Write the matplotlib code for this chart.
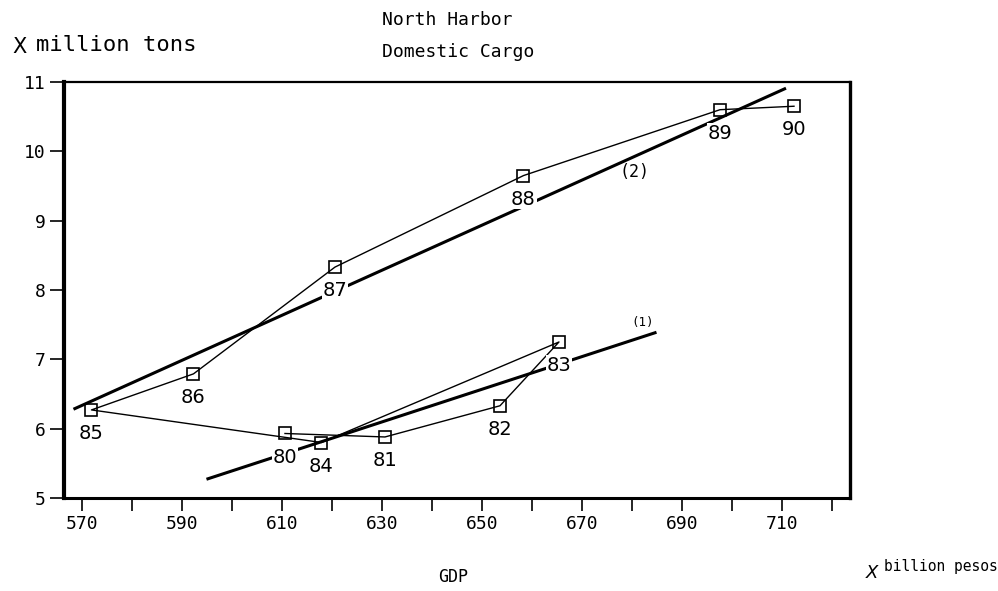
import matplotlib
matplotlib.use('Agg')
import matplotlib.pyplot as plt

# year labels and (GDP, cargo) points
years = ['80', '81', '82', '83', '84', '85', '86', '87', '88', '89', '90']
gdp = [610.6, 630.6, 653.6, 665.4, 617.9, 571.9, 592.3, 620.6, 658.3, 697.6, 712.4]
cargo = [5.93, 5.88, 6.33, 7.25, 5.80, 6.27, 6.79, 8.33, 9.65, 10.60, 10.65]

# fitted lines (1) and (2), end points
fit1_x = [594.9, 684.9]
fit1_y = [5.27, 7.39]
fit2_x = [568.3, 710.8]
fit2_y = [6.28, 10.91]

x_ticks = list(range(570, 721, 10))
x_labels = [str(t) if (t - 570) % 20 == 0 else '' for t in x_ticks]
y_ticks = [5, 6, 7, 8, 9, 10, 11]

mono = 'DejaVu Sans Mono'

fig = plt.figure(figsize=(9.98, 5.91), dpi=100)
fig.patch.set_facecolor('white')
ax = fig.add_axes([0.0641, 0.1574, 0.7876, 0.7039])

ax.plot(gdp, cargo, color='black', lw=1.0, zorder=2)
ax.plot(fit1_x, fit1_y, color='black', lw=2.2, zorder=2, solid_capstyle='butt')
ax.plot(fit2_x, fit2_y, color='black', lw=2.2, zorder=2, solid_capstyle='butt')
ax.plot(gdp, cargo, ls='none', marker='s', ms=9, mfc='none', mec='black', mew=1.2, zorder=3)

for x, y, lab in zip(gdp, cargo, years):
    ax.annotate(lab, (x, y), xytext=(0, -17), textcoords='offset points',
                ha='center', va='center', fontsize=14, family='DejaVu Sans',
                bbox=dict(fc='white', ec='none', pad=0.5), zorder=4)

ax.text(682.1, 7.53, '(1)', fontsize=9, ha='center', va='center', family=mono)
ax.text(680.6, 9.70, '(2)', fontsize=12, ha='center', va='center', family=mono)

ax.set_xlim(566.4, 723.6)
ax.set_ylim(5, 11)
ax.set_xticks(x_ticks)
ax.set_xticklabels(x_labels, family=mono, fontsize=13)
ax.set_yticks(y_ticks)
ax.set_yticklabels([str(t) for t in y_ticks], family=mono, fontsize=13)
ax.tick_params(axis='x', direction='out', length=9, width=1.2, pad=3)
ax.tick_params(axis='y', direction='out', length=10, width=1.2, pad=3)

ax.spines['left'].set_linewidth(3.0)
ax.spines['bottom'].set_linewidth(2.2)
ax.spines['top'].set_linewidth(1.6)
ax.spines['right'].set_linewidth(2.4)

fig.text(447 / 998, 1 - 20 / 591, 'North Harbor', family=mono, fontsize=13,
         ha='center', va='center')
fig.text(458 / 998, 1 - 52 / 591, 'Domestic Cargo', family=mono, fontsize=13,
         ha='center', va='center')
fig.text(12 / 998, 1 - 47 / 591, 'X', family='DejaVu Sans', fontsize=15,
         ha='left', va='center')
fig.text(36 / 998, 1 - 45 / 591, 'million tons', family=mono, fontsize=16,
         ha='left', va='center')
fig.text(453 / 998, 1 - 577 / 591, 'GDP', family=mono, fontsize=12,
         ha='center', va='center')
fig.text(866 / 998, 1 - 573 / 591, 'X', family='DejaVu Sans', fontsize=13,
         ha='left', va='center', style='italic')
fig.text(884 / 998, 1 - 566 / 591, 'billion pesos', family=mono, fontsize=10.5,
         ha='left', va='center')

fig.savefig('out.png', dpi=100)
